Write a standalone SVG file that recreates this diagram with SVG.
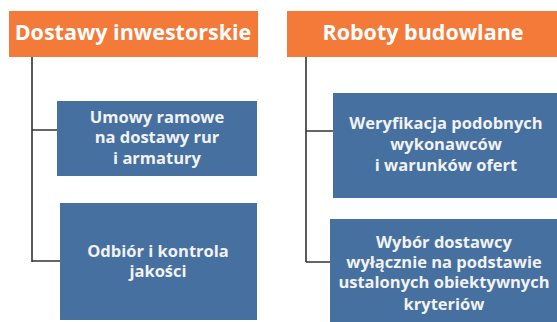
<svg xmlns="http://www.w3.org/2000/svg" width="557" height="322" viewBox="0 0 557 322">
<style>
.hdr{fill:#F47A3A}
.box{fill:#4570A0}
.ht{font-family:"Open Sans","DejaVu Sans",sans-serif;font-weight:700;font-size:21.5px;fill:#FFFFFF;text-anchor:middle}
.bt{font-family:"Open Sans","DejaVu Sans",sans-serif;font-weight:700;font-size:16.5px;fill:#F2F2F2;text-anchor:middle}
.ln{stroke:#333333;stroke-width:1.6;fill:none}
</style>
<g id="connectors">
<path class="ln" d="M32 57 V262 M32 130 H57 M32 261 H60"/>
<path class="ln" d="M306 57 V262 M306 131 H333 M306 262 H330"/>
</g>
<g id="hdr1"><rect class="hdr" x="9" y="11" width="249" height="46"/><text class="ht" x="133" y="40">Dostawy inwestorskie</text></g>
<g id="hdr2"><rect class="hdr" x="287" y="11" width="270" height="46"/><text class="ht" x="423" y="40">Roboty budowlane</text></g>
<g id="box1"><rect class="box" x="57" y="101" width="200" height="75"/>
<text class="bt" x="157" y="123">Umowy ramowe</text><text class="bt" x="157" y="143">na dostawy rur</text><text class="bt" x="157" y="164">i armatury</text></g>
<g id="box2"><rect class="box" x="60" y="203" width="197" height="117"/>
<text class="bt" x="158" y="257">Odbiór i kontrola</text><text class="bt" x="158" y="277">jakości</text></g>
<g id="box3"><rect class="box" x="333" y="93" width="224" height="105"/>
<text class="bt" x="446" y="129">Weryfikacja podobnych</text><text class="bt" x="446" y="150">wykonawców</text><text class="bt" x="446" y="171">i warunków ofert</text></g>
<g id="box4"><rect class="box" x="330" y="219" width="227" height="103"/>
<text class="bt" x="444" y="248">Wybór dostawcy</text><text class="bt" x="444" y="268">wyłącznie na podstawie</text><text class="bt" x="444" y="288">ustalonych obiektywnych</text><text class="bt" x="444" y="310">kryteriów</text></g>
</svg>
